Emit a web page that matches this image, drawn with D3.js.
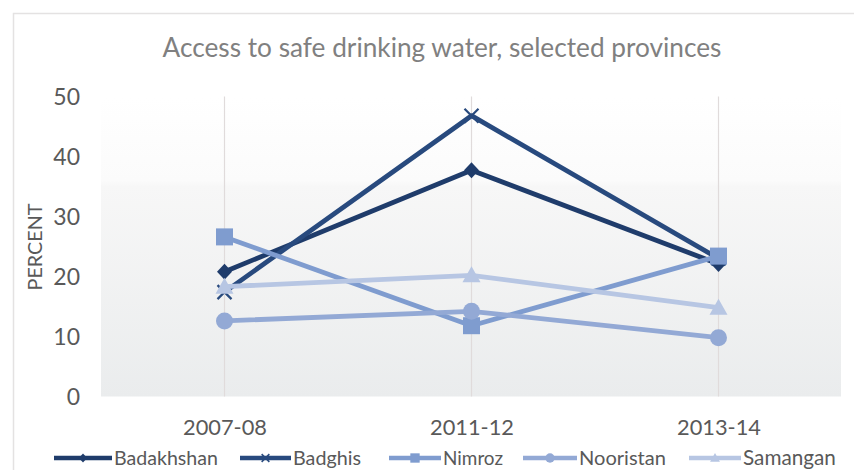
<!DOCTYPE html>
<html>
<head>
<meta charset="utf-8">
<script src="https://cdn.jsdelivr.net/npm/d3@7"></script>
<style>
  html, body { margin: 0; padding: 0; background: #fff; }
  svg { display: block; }
  text { font-family: Lato, "Open Sans", sans-serif; }
</style>
</head>
<body>
<svg id="chart" width="854" height="470"></svg>
<script>
// ---- data ----
const categories = ["2007-08", "2011-12", "2013-14"];
const seriesNames = ["Badakhshan", "Badghis", "Nimroz", "Nooristan", "Samangan"];
const badakhshan = [20.8, 37.7, 22.1];
const badghis    = [17.4, 46.8, 23.0];
const nimroz     = [26.6, 11.8, 23.4];
const nooristan  = [12.6, 14.2, 9.8];
const samangan   = [18.3, 20.2, 14.8];
const yTicks = [0, 10, 20, 30, 40, 50];
const titleText = "Access to safe drinking water, selected provinces";
const yTitle = "PERCENT";

const seriesValues = [badakhshan, badghis, nimroz, nooristan, samangan];
const colors = ["#1f3c6b", "#284a7e", "#7f9ccf", "#93a9d5", "#b7c6e3"];
const markers = ["diamond", "x", "square", "circle", "triangle"];

const svg = d3.select("#chart");

// gradient for plot background
const defs = svg.append("defs");
const grad = defs.append("linearGradient").attr("id", "bg").attr("x1", 0).attr("y1", 0).attr("x2", 0).attr("y2", 1);
grad.append("stop").attr("offset", "0%").attr("stop-color", "#ffffff");
grad.append("stop").attr("offset", "28%").attr("stop-color", "#fbfbfb");
grad.append("stop").attr("offset", "30%").attr("stop-color", "#f7f7f7");
grad.append("stop").attr("offset", "100%").attr("stop-color", "#eaeced");

// chart area border (left/top visible)
svg.append("rect").attr("x", 13.5).attr("y", 13.5).attr("width", 900).attr("height", 500)
  .attr("fill", "none").attr("stroke", "#e4e2e2").attr("stroke-width", 1.5);

const x = d3.scalePoint().domain(categories).range([101, 842]).padding(0.5);
const y = d3.scaleLinear().domain([0, 50]).range([396.5, 96.5]);

// plot background
svg.append("rect").attr("x", 101).attr("y", y(50)).attr("width", 740).attr("height", y(0) - y(50))
  .attr("fill", "url(#bg)");

// vertical gridlines at categories
svg.append("g").selectAll("line").data(categories).join("line")
  .attr("x1", d => x(d)).attr("x2", d => x(d))
  .attr("y1", y(50)).attr("y2", y(0))
  .attr("stroke", "#e0dbdb").attr("stroke-width", 1.2);

// title
function fit(sel, target) {
  sel.each(function() {
    const w = this.getComputedTextLength();
    const fs = parseFloat(d3.select(this).attr("font-size"));
    d3.select(this).attr("font-size", (fs * target / w).toFixed(2));
  });
}
svg.append("text").attr("x", 442).attr("y", 57).attr("text-anchor", "middle")
  .attr("font-size", 24).attr("fill", "#808080").text(titleText).call(fit, 559);

// y axis
const yAxis = svg.append("g").attr("transform", "translate(80,0)")
  .call(d3.axisLeft(y).tickValues(yTicks).tickSize(0).tickPadding(0));
yAxis.select(".domain").remove();
yAxis.selectAll("text").attr("font-size", 23).attr("fill", "#595959")
  .style("font-family", "Lato, 'Open Sans', sans-serif").attr("dy", "0.35em");

// y title
svg.append("text").attr("transform", "translate(42,247) rotate(-90)")
  .attr("text-anchor", "middle").attr("font-size", 20).attr("fill", "#595959")
  .text(yTitle).call(fit, 87);

// x axis
const xAxis = svg.append("g").attr("transform", "translate(0,419)")
  .call(d3.axisBottom(x).tickSize(0).tickPadding(0));
xAxis.select(".domain").remove();
xAxis.selectAll("text").attr("font-size", 22).attr("fill", "#595959")
  .style("font-family", "Lato, 'Open Sans', sans-serif").attr("dy", "0.71em").attr("y", 0)
  .call(fit, 84);

// marker drawing
function drawMarker(g, type, color, s) {
  if (type === "diamond") {
    g.append("path").attr("d", `M0,${-8*s}L${7.5*s},0L0,${8*s}L${-7.5*s},0Z`).attr("fill", color);
  } else if (type === "x") {
    g.append("path").attr("d", `M${-7*s},${-7*s}L${7*s},${7*s}M${7*s},${-7*s}L${-7*s},${7*s}`)
      .attr("stroke", color).attr("stroke-width", 2.2 * Math.max(s, 0.7)).attr("fill", "none");
  } else if (type === "square") {
    g.append("rect").attr("x", -8.5*s).attr("y", -8.5*s).attr("width", 17*s).attr("height", 17*s).attr("fill", color);
  } else if (type === "circle") {
    g.append("circle").attr("r", 8.5*s).attr("fill", color);
  } else if (type === "triangle") {
    g.append("path").attr("d", `M0,${-9*s}L${9*s},${7*s}L${-9*s},${7*s}Z`).attr("fill", color);
  }
}

// series
const line = d3.line().x((d, i) => x(categories[i])).y(d => y(d));
seriesNames.forEach((name, si) => {
  const vals = seriesValues[si];
  const g = svg.append("g");
  g.append("path").datum(vals).attr("d", line).attr("fill", "none")
    .attr("stroke", colors[si]).attr("stroke-width", 4.8).attr("stroke-linejoin", "round");
  vals.forEach((v, i) => {
    const mg = g.append("g").attr("transform", `translate(${x(categories[i])},${y(v)})`);
    drawMarker(mg, markers[si], colors[si], 1);
  });
});

// legend
const legendLines = [[54, 112], [240, 291], [389, 441], [523, 577], [689, 741]];
const legendTextW = [104, 68, 60, 87, 93];
seriesNames.forEach((name, si) => {
  const [x0, x1] = legendLines[si];
  const g = svg.append("g");
  g.append("line").attr("x1", x0).attr("x2", x1).attr("y1", 458).attr("y2", 458)
    .attr("stroke", colors[si]).attr("stroke-width", 4.5);
  const mg = g.append("g").attr("transform", `translate(${(x0 + x1) / 2},458)`);
  drawMarker(mg, markers[si], colors[si], 0.55);
  g.append("text").attr("x", x1 + 2).attr("y", 458).attr("dy", "0.35em")
    .attr("font-size", 19).attr("fill", "#595959").text(name).call(fit, legendTextW[si]);
});
</script>
</body>
</html>
